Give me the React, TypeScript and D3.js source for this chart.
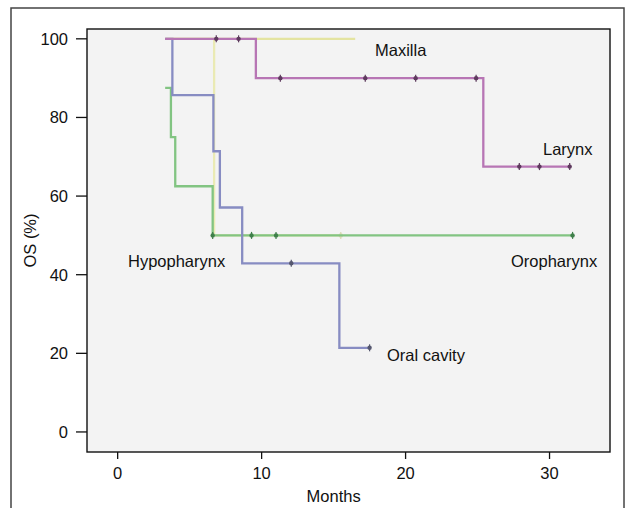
import React from "react";
import * as d3 from "d3";

// survival steps: [month, OS %]
const larynxSteps: [number, number][] = [[3.3, 100], [9.6, 90], [25.4, 67.5]];
const larynxEnd = 31.5;
const larynxCensor: [number, number][] = [[6.85, 100], [8.4, 100], [11.3, 90], [17.2, 90], [20.7, 90], [24.9, 90], [27.9, 67.5], [29.3, 67.5], [31.4, 67.5]];

const maxillaSteps: [number, number][] = [[3.3, 100]];
const maxillaEnd = 16.5;
const maxillaCensor: [number, number][] = [];

const hypoSteps: [number, number][] = [[3.3, 100], [6.7, 50]];
const hypoEnd = 15.5;
const hypoCensor: [number, number][] = [[15.5, 50]];

const oroSteps: [number, number][] = [[3.3, 87.5], [3.7, 75], [4.0, 62.5], [6.6, 50]];
const oroEnd = 31.6;
const oroCensor: [number, number][] = [[6.6, 50], [9.3, 50], [11.0, 50], [31.6, 50]];

const oralSteps: [number, number][] = [[3.3, 100], [3.8, 85.7], [6.65, 71.4], [7.1, 57.1], [8.65, 42.9], [15.4, 21.4]];
const oralEnd = 17.5;
const oralCensor: [number, number][] = [[12.06, 42.9], [17.5, 21.4]];

const xTicks = [0, 10, 20, 30];
const yTicks = [0, 20, 40, 60, 80, 100];

const series = [
  { name: "Maxilla", steps: maxillaSteps, end: maxillaEnd, censor: maxillaCensor, color: "#e4e4a0", mark: "#c8c890" },
  { name: "Hypopharynx", steps: hypoSteps, end: hypoEnd, censor: hypoCensor, color: "#eaeab4", mark: "#d8d8b0" },
  { name: "Oropharynx", steps: oroSteps, end: oroEnd, censor: oroCensor, color: "#82c482", mark: "#3f7f4a" },
  { name: "Oral cavity", steps: oralSteps, end: oralEnd, censor: oralCensor, color: "#878cc2", mark: "#55576f" },
  { name: "Larynx", steps: larynxSteps, end: larynxEnd, censor: larynxCensor, color: "#b775b4", mark: "#5e3a5e" },
];

const W = 628, H = 508;
const panel = { left: 87, top: 29, right: 610, bottom: 452 };
const font = "'Liberation Sans', Arial, sans-serif";

export default function App() {
  const x = d3.scaleLinear().domain([-2.13, 34.2]).range([panel.left, panel.right]);
  const y = d3.scaleLinear().domain([-5.1, 102.5]).range([panel.bottom, panel.top]);

  const stepLine = d3.line<[number, number]>()
    .x(d => x(d[0]))
    .y(d => y(d[1]))
    .curve(d3.curveStepAfter);

  const pathFor = (steps: [number, number][], end: number) => {
    const pts = [...steps, [end, steps[steps.length - 1][1]] as [number, number]];
    return stepLine(pts) || "";
  };

  return (
    <svg width={W} height={H} style={{ position: "absolute", left: 0, top: 0 }} fontFamily={font}>
      <rect x={0} y={0} width={W} height={H} fill="#fff" />
      <rect x={11} y={8} width={613} height={510} fill="none" stroke="#444" strokeWidth={1.5} />
      <rect x={panel.left} y={panel.top} width={panel.right - panel.left} height={panel.bottom - panel.top}
        fill="#f3f3f3" />

      {series.map(s => (
        <g key={s.name}>
          <path d={pathFor(s.steps, s.end)} fill="none" stroke={s.color} strokeWidth={2.3} />
          {s.censor.map((c, i) => (
            <g key={i} transform={`translate(${x(c[0])},${y(c[1])})`}>
              <line x1={0} x2={0} y1={-3.5} y2={3.5} stroke={s.mark} strokeWidth={1.2} />
              <circle r={2.2} fill={s.mark} />
            </g>
          ))}
        </g>
      ))}

      <rect x={panel.left} y={panel.top} width={panel.right - panel.left} height={panel.bottom - panel.top}
        fill="none" stroke="#111" strokeWidth={1.4} />

      {yTicks.map(t => (
        <g key={t}>
          <line x1={76} x2={panel.left} y1={y(t)} y2={y(t)} stroke="#111" strokeWidth={1.3} />
          <text x={68} y={y(t) + 6} textAnchor="end" fontSize={16.5} fill="#111">{t}</text>
        </g>
      ))}
      {xTicks.map(t => (
        <g key={t}>
          <line x1={x(t)} x2={x(t)} y1={panel.bottom} y2={panel.bottom + 7} stroke="#111" strokeWidth={1.3} />
          <text x={x(t)} y={479} textAnchor="middle" fontSize={16.5} fill="#111">{t}</text>
        </g>
      ))}

      <text x={x(15)} y={502} textAnchor="middle" fontSize={16.5} fill="#111">Months</text>
      <text transform={`translate(36,${(panel.top + panel.bottom) / 2}) rotate(-90)`} textAnchor="middle"
        fontSize={16.5} fill="#111">OS (%)</text>

      <text x={375} y={56} fontSize={16.5} fill="#111">Maxilla</text>
      <text x={543} y={155} fontSize={16.5} fill="#111">Larynx</text>
      <text x={128} y={267} fontSize={16.5} fill="#111">Hypopharynx</text>
      <text x={511} y={267} fontSize={16.5} fill="#111">Oropharynx</text>
      <text x={387} y={361} fontSize={16.5} fill="#111">Oral cavity</text>
    </svg>
  );
}
